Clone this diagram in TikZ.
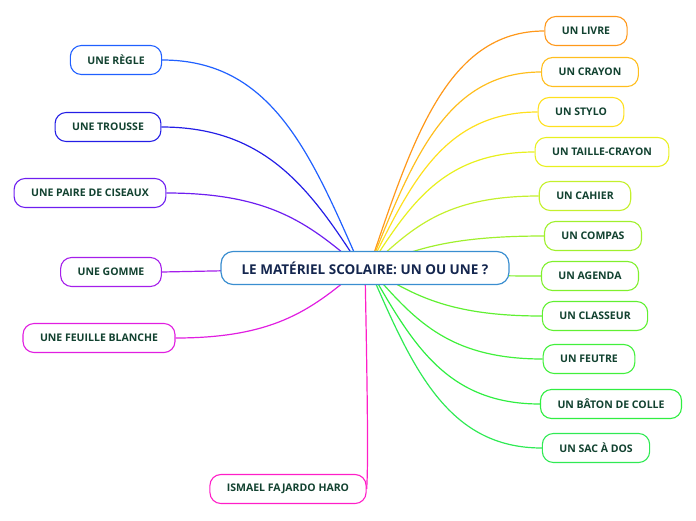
\documentclass[tikz,border=0pt]{standalone}
\usepackage{fontspec}
\setmainfont{Open Sans}
\usetikzlibrary{backgrounds}

\definecolor{leaftext}{RGB}{18,66,48}
\definecolor{roottext}{RGB}{20,38,78}
\definecolor{rootline}{RGB}{58,142,208}
\definecolor{cregle}{RGB}{32,96,255}
\definecolor{ctrousse}{RGB}{36,30,230}
\definecolor{cciseaux}{RGB}{110,30,240}
\definecolor{cgomme}{RGB}{165,30,235}
\definecolor{cfeuille}{RGB}{225,30,225}
\definecolor{cismael}{RGB}{255,30,200}
\definecolor{clivre}{RGB}{255,152,26}
\definecolor{ccrayon}{RGB}{255,190,30}
\definecolor{cstylo}{RGB}{255,224,30}
\definecolor{ctaille}{RGB}{232,240,30}
\definecolor{ccahier}{RGB}{196,240,45}
\definecolor{ccompas}{RGB}{160,240,45}
\definecolor{cagenda}{RGB}{128,240,45}
\definecolor{cclasseur}{RGB}{96,240,50}
\definecolor{cfeutre}{RGB}{66,240,60}
\definecolor{cbaton}{RGB}{48,238,66}
\definecolor{csac}{RGB}{48,234,84}

\tikzset{
  topic/.style={draw=#1, line width=1.1pt, rounded corners=11pt, fill=white,
    text=leaftext, font=\bfseries\fontsize{10.5}{12}\selectfont,
    minimum height=29pt, inner xsep=17pt},
  root/.style={draw=rootline, line width=1.2pt, rounded corners=12pt, fill=white,
    text=roottext, font=\bfseries\fontsize{13.5}{16}\selectfont,
    minimum height=33pt, inner xsep=20.5pt},
  branch/.style={draw=#1, line width=1.2pt},
}

\begin{document}
\begin{tikzpicture}[x=1pt,y=-1pt]
  \useasboundingbox (0,0) rectangle (696,520);

  % centre
  \node[root] (cen) at (365,268) {LE MATÉRIEL SCOLAIRE: UN OU UNE ?};
  \coordinate (hubr) at (369,268);
  \coordinate (hubl) at (361,268);

  % left side
  \node[topic=cregle] (regle) at (116,60) {UNE RÈGLE};
  \node[topic=ctrousse] (trousse) at (108,127) {UNE TROUSSE};
  \node[topic=cciseaux] (ciseaux) at (90,193) {UNE PAIRE DE CISEAUX};
  \node[topic=cgomme] (gomme) at (111,272) {UNE GOMME};
  \node[topic=cfeuille] (feuille) at (99,338) {UNE FEUILLE BLANCHE};
  \node[topic=cismael] (ismael) at (288,489) {ISMAEL FAJARDO HARO};

  % right side
  \node[topic=clivre] (livre) at (586,31) {UN LIVRE};
  \node[topic=ccrayon] (crayon) at (590,72) {UN CRAYON};
  \node[topic=cstylo] (stylo) at (581,112) {UN STYLO};
  \node[topic=ctaille] (taille) at (602,152) {UN TAILLE-CRAYON};
  \node[topic=ccahier] (cahier) at (585,196) {UN CAHIER};
  \node[topic=ccompas] (compas) at (593,236) {UN COMPAS};
  \node[topic=cagenda] (agenda) at (590,276) {UN AGENDA};
  \node[topic=cclasseur] (classeur) at (595,316) {UN CLASSEUR};
  \node[topic=cfeutre] (feutre) at (589,359) {UN FEUTRE};
  \node[topic=cbaton] (baton) at (611,404) {UN BÂTON DE COLLE};
  \node[topic=csac] (sac) at (596,448) {UN SAC À DOS};

  \begin{pgfonlayer}{background}
    \draw[branch=cregle] (hubl) .. controls +(-50,-114) and +(110,0) .. (regle.east);
    \draw[branch=ctrousse] (hubl) .. controls +(-50,-78) and +(105,0) .. (trousse.east);
    \draw[branch=cciseaux] (hubl) .. controls +(-49,-41) and +(108,0) .. (ciseaux.east);
    \draw[branch=cgomme] (hubl) -- (gomme.east);
    \draw[branch=cfeuille] (hubl) .. controls +(-47,39) and +(103,0) .. (feuille.east);
    \draw[branch=cismael] (cen.center) .. controls (368,420) and (368,470) .. (ismael.east);

    \draw[branch=clivre] (hubr) .. controls +(44,-130) and +(-97,0) .. (livre.west);
    \draw[branch=ccrayon] (hubr) .. controls +(43,-108) and +(-95,0) .. (crayon.west);
    \draw[branch=cstylo] (hubr) .. controls +(42,-86) and +(-93,0) .. (stylo.west);
    \draw[branch=ctaille] (hubr) .. controls +(41,-64) and +(-91,0) .. (taille.west);
    \draw[branch=ccahier] (hubr) .. controls +(43,-40) and +(-94,0) .. (cahier.west);
    \draw[branch=ccompas] (hubr) .. controls +(44,-18) and +(-97,0) .. (compas.west);
    \draw[branch=cagenda] (hubr) .. controls +(43,4) and +(-95,0) .. (agenda.west);
    \draw[branch=cclasseur] (hubr) .. controls +(43,26) and +(-95,0) .. (classeur.west);
    \draw[branch=cfeutre] (hubr) .. controls +(44,50) and +(-96,0) .. (feutre.west);
    \draw[branch=cbaton] (hubr) .. controls +(43,75) and +(-94,0) .. (baton.west);
    \draw[branch=csac] (hubr) .. controls +(43,99) and +(-95,0) .. (sac.west);
  \end{pgfonlayer}
\end{tikzpicture}
\end{document}
